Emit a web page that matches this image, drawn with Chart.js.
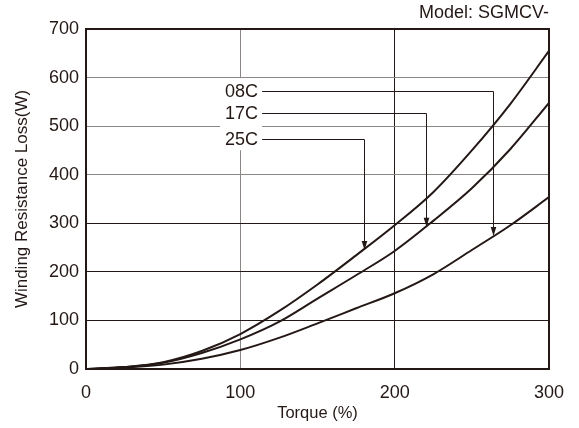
<!DOCTYPE html>
<html>
<head>
<meta charset="utf-8">
<script src="https://cdn.jsdelivr.net/npm/chart.js@4/dist/chart.umd.min.js"></script>
<style>
  html, body { margin: 0; padding: 0; background: #ffffff; }
  #wrap { width: 579px; height: 428px; position: relative; }
</style>
</head>
<body>
<div id="wrap"><canvas id="c" width="579" height="428"></canvas></div>
<script>
// ---- data ----
const torque = [0, 25, 50, 75, 100, 125, 150, 175, 200, 225, 250, 275, 300];
const loss25C = [0, 4, 14, 37, 72, 119, 174, 234, 296, 364, 450, 546, 655];
const loss17C = [0, 4, 13, 33, 61, 97, 145, 193, 243, 305, 372, 453, 548];
const loss08C = [0, 3, 9, 21, 39, 64, 94, 125, 156, 195, 245, 296, 354];
const seriesNames = ['08C', '17C', '25C'];
const xTicks = [0, 100, 200, 300];
const yTicks = [0, 100, 200, 300, 400, 500, 600, 700];

// annotation (callout) placement in data units
const calloutTextRight = 111.5;          // torque at right edge of label text
const calloutLabelLoss = [572, 527, 473];  // loss at label baseline centre
const calloutDropTorque = [264, 220, 180]; // where each leader turns down
const calloutTipLoss = [274, 293, 245];    // arrow tip on the curve

const INK = '#231815';
const GRAY = '#8c8784';
const FONT = '"Liberation Sans", Arial, Helvetica, sans-serif';

function pts(ys) { return torque.map((t, i) => ({ x: t, y: ys[i] })); }

const calloutPlugin = {
  id: 'callouts',
  beforeDatasetsDraw(chart) {
    const { ctx, scales: { x, y } } = chart;
    ctx.save();
    ctx.font = '18px ' + FONT;
    const right = x.getPixelForValue(calloutTextRight);
    const w = ctx.measureText('08C').width;
    const top = y.getPixelForValue(calloutLabelLoss[0]) - 13;
    const bot = y.getPixelForValue(calloutLabelLoss[2]) + 11;
    ctx.fillStyle = '#ffffff';
    ctx.fillRect(right - w - 5, top, w + 9, bot - top);
    ctx.restore();
  },
  afterDatasetsDraw(chart) {
    const { ctx, scales: { x, y } } = chart;
    ctx.save();
    ctx.font = '18px ' + FONT;
    ctx.fillStyle = INK;
    ctx.strokeStyle = INK;
    ctx.lineWidth = 1;
    ctx.textAlign = 'right';
    ctx.textBaseline = 'middle';
    const right = x.getPixelForValue(calloutTextRight);
    seriesNames.forEach((name, i) => {
      const ly = y.getPixelForValue(calloutLabelLoss[i]);
      ctx.fillText(name, right, ly + 1);
      const dx = x.getPixelForValue(calloutDropTorque[i]);
      const ty = y.getPixelForValue(calloutTipLoss[i]);
      const yy = Math.round(ly) + 0.5;
      const xx = Math.round(dx) + 0.5;
      ctx.beginPath();
      ctx.moveTo(right + 4, yy);
      ctx.lineTo(xx, yy);
      ctx.lineTo(xx, ty - 8);
      ctx.stroke();
      ctx.beginPath();
      ctx.moveTo(xx - 2.8, ty - 9);
      ctx.lineTo(xx + 2.8, ty - 9);
      ctx.lineTo(xx, ty);
      ctx.closePath();
      ctx.fill();
    });
    ctx.restore();
  },
  afterDraw(chart) {
    const { ctx, chartArea: a } = chart;
    ctx.save();
    ctx.strokeStyle = INK;
    ctx.lineWidth = 2;
    ctx.strokeRect(a.left, a.top, a.right - a.left, a.bottom - a.top);
    ctx.font = '18px ' + FONT;
    ctx.fillStyle = INK;
    ctx.textAlign = 'right';
    ctx.textBaseline = 'middle';
    ctx.fillText('Model: SGMCV-', a.right, 13);
    ctx.restore();
  }
};

new Chart(document.getElementById('c'), {
  type: 'line',
  data: {
    datasets: [
      { label: '25C', data: pts(loss25C) },
      { label: '17C', data: pts(loss17C) },
      { label: '08C', data: pts(loss08C) }
    ].map(d => Object.assign(d, {
      borderColor: INK, borderWidth: 2, pointRadius: 0,
      cubicInterpolationMode: 'monotone', fill: false
    }))
  },
  options: {
    responsive: false,
    animation: false,
    events: [],
    layout: { padding: { top: 29, right: 30, left: 0, bottom: 0 } },
    plugins: { legend: { display: false }, tooltip: { enabled: false }, title: { display: false } },
    scales: {
      x: {
        type: 'linear', min: 0, max: 300,
        afterBuildTicks: s => { s.ticks = xTicks.map(v => ({ value: v })); },
        afterFit: s => { s.height = 59; },
        border: { display: false },
        grid: {
          drawTicks: false, lineWidth: 1,
          color: c => (c.tick && c.tick.value === 100) ? GRAY : INK
        },
        ticks: { color: INK, padding: 13, font: { family: FONT, size: 18 }, maxRotation: 0 },
        title: { display: true, text: 'Torque (%)', color: INK,
                 font: { family: FONT, size: 16.5 }, padding: { top: 0, bottom: 5 } }
      },
      y: {
        type: 'linear', min: 0, max: 700,
        afterBuildTicks: s => { s.ticks = yTicks.map(v => ({ value: v })); },
        afterFit: s => { s.width = 86; },
        border: { display: false },
        grid: {
          drawTicks: false, lineWidth: 1,
          color: c => (c.tick && c.tick.value >= 400) ? GRAY : INK
        },
        ticks: { color: INK, padding: 7, font: { family: FONT, size: 18 } },
        title: { display: true, text: 'Winding Resistance Loss(W)', color: INK,
                 font: { family: FONT, size: 17 }, padding: { top: 12, bottom: 0 } }
      }
    }
  },
  plugins: [calloutPlugin]
});
</script>
</body>
</html>
